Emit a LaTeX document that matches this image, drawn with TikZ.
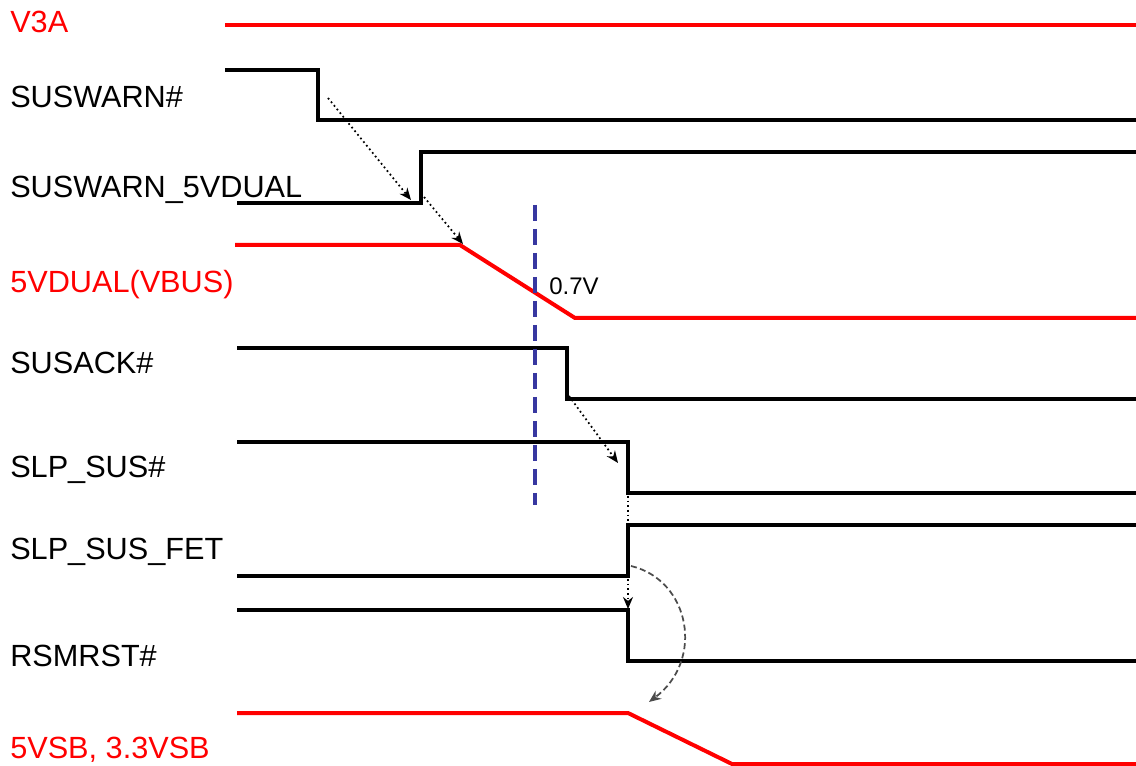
\documentclass[tikz,border=0pt]{standalone}
\usepackage{fontspec}
\setmainfont{Liberation Sans}
\usetikzlibrary{arrows.meta}
\definecolor{sigred}{RGB}{255,0,0}
\definecolor{markblue}{RGB}{55,55,160}

\begin{document}
\begin{tikzpicture}[x=0.75pt,y=-0.75pt,>={Stealth[length=9pt,width=7.5pt]},
    wave/.style={line width=3pt,line join=miter},
    rail/.style={line width=3pt,color=sigred},
    name label/.style={anchor=base west,inner sep=0pt,font=\fontsize{23}{27}\selectfont},
    rail label/.style={name label,text=sigred},
    cause/.style={->,line width=1.3pt,dash pattern=on 1.3pt off 2.2pt},
    delay/.style={->,line width=1.3pt,color=black!70,dash pattern=on 4.5pt off 2.5pt}]
    \useasboundingbox[fill=white] (0,0) rectangle (1136,766);

    % signal names
    \node[rail label] (v3a) at (10,33) {V3A};
    \node[name label] (suswarn) at (10,108) {SUSWARN\#};
    \node[name label] (suswarn5) at (10,198) {SUSWARN\_5VDUAL};
    \node[rail label] (vbus) at (10,293) {5VDUAL(VBUS)};
    \node[name label] (susack) at (10,374) {SUSACK\#};
    \node[name label] (slpsus) at (10,478) {SLP\_SUS\#};
    \node[name label] (slpfet) at (10,560) {SLP\_SUS\_FET};
    \node[name label] (rsmrst) at (10,666) {RSMRST\#};
    \node[rail label] (vsb) at (10,758) {5VSB, 3.3VSB};

    % waveforms
    \draw[rail] (225,25) -- (1136,25);
    \draw[wave] (225,70) -- (318,70) -- (318,120) -- (1136,120);
    \draw[wave] (237,203) -- (421,203) -- (421,152) -- (1136,152);
    \draw[rail] (235,245) -- (460,245) -- (575,318) -- (1136,318);
    \draw[wave] (237,348) -- (567,348) -- (567,399) -- (1136,399);
    \draw[wave] (237,442) -- (628,442) -- (628,493) -- (1136,493);
    \draw[wave] (237,576) -- (628,576) -- (628,525) -- (1136,525);
    \draw[wave] (237,610) -- (628,610) -- (628,661) -- (1136,661);
    \draw[rail] (237,713) -- (628,713) -- (732,764) -- (1136,764);

    % 0.7V threshold
    \draw[markblue,line width=3pt,dash pattern=on 12pt off 6pt] (535,205) -- (535,505);
    \node[anchor=base west,inner sep=0pt,font=\fontsize{18}{21}\selectfont] (thr) at (549,295) {0.7V};

    % sequence points
    \coordinate (a1) at (328,98);
    \coordinate (a2) at (411,200);
    \coordinate (b1) at (424,197);
    \coordinate (b2) at (463,244);
    \coordinate (c1) at (569,396);
    \coordinate (c2) at (618,463);
    \coordinate (d1) at (628,496);
    \coordinate (d2) at (628,523);
    \coordinate (e1) at (628,579);
    \coordinate (e2) at (628,609);
    \coordinate (f1) at (631,566);
    \coordinate (f2) at (649,702);

    \draw[cause] (a1) -- (a2);
    \draw[cause] (b1) -- (b2);
    \draw[cause] (c1) -- (c2);
    \draw[cause,-] (d1) -- (d2);
    \draw[cause] (e1) -- (e2);
    \draw[delay] (f1) .. controls (690,580) and (705,660) .. (f2);
\end{tikzpicture}
\end{document}
